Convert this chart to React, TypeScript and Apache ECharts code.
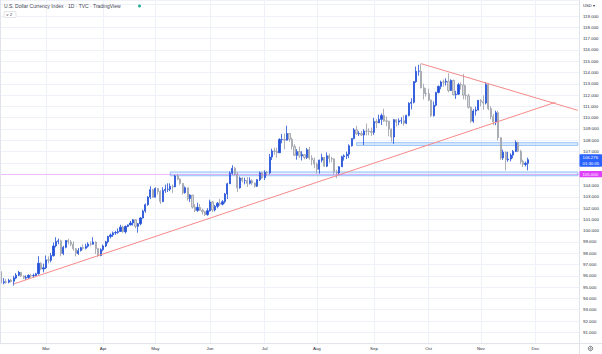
import React, { useEffect, useRef } from "react";
import * as echarts from "echarts";

// [day, open, close, low, high]
const feb = [
  [3, 96.37, 95.37, 95.35, 96.42], [4, 95.38, 95.48, 95.25, 95.8], [7, 95.47, 95.44, 95.3, 95.71],
  [8, 95.44, 95.6, 95.33, 95.74], [9, 95.62, 95.5, 95.41, 95.73], [10, 95.51, 95.82, 95.14, 96.0],
  [11, 95.8, 96.07, 95.7, 96.24], [14, 96.05, 96.31, 95.97, 96.44], [15, 96.3, 95.99, 95.9, 96.34],
  [16, 95.99, 95.81, 95.7, 96.04], [17, 95.8, 95.86, 95.63, 96.04], [18, 95.85, 96.04, 95.72, 96.13],
  [21, 96.03, 96.0, 95.85, 96.18], [22, 96.0, 96.03, 95.82, 96.2], [23, 96.03, 96.18, 95.98, 96.26],
  [24, 96.19, 97.11, 96.1, 97.74], [25, 97.1, 96.61, 96.5, 97.2], [28, 96.6, 96.71, 96.3, 97.08],
];
const mar = [
  [1, 96.72, 97.41, 96.6, 97.8], [2, 97.42, 97.37, 97.09, 97.73], [3, 97.38, 97.79, 97.2, 98.03],
  [4, 97.78, 98.64, 97.7, 98.95], [7, 98.65, 99.04, 98.52, 99.42], [8, 99.05, 99.1, 98.79, 99.3],
  [9, 99.1, 97.98, 97.72, 99.2], [10, 97.98, 98.52, 97.83, 98.66], [11, 98.52, 99.13, 98.43, 99.16],
  [14, 99.13, 99.0, 98.78, 99.29], [15, 99.0, 98.8, 98.62, 99.17], [16, 98.8, 98.39, 98.22, 99.05],
  [17, 98.4, 97.97, 97.71, 98.46], [18, 97.97, 98.23, 97.85, 98.46], [21, 98.24, 98.49, 98.15, 98.57],
  [22, 98.5, 98.44, 98.3, 98.79], [23, 98.44, 98.62, 98.34, 98.83], [24, 98.62, 98.81, 98.5, 98.97],
  [25, 98.81, 98.79, 98.61, 99.05], [28, 98.8, 98.99, 98.77, 99.42], [29, 98.99, 98.41, 97.93, 99.03],
  [30, 98.41, 97.8, 97.68, 98.45], [31, 97.8, 98.31, 97.73, 98.44],
];
const apr = [
  [1, 98.32, 98.64, 98.17, 98.77], [4, 98.64, 99.02, 98.55, 99.1], [5, 99.02, 99.48, 98.86, 99.55],
  [6, 99.48, 99.62, 99.31, 99.75], [7, 99.62, 99.8, 99.44, 99.92], [8, 99.8, 99.84, 99.63, 99.97],
  [11, 99.84, 99.92, 99.72, 100.19], [12, 99.93, 100.31, 99.89, 100.52], [13, 100.31, 99.9, 99.81, 100.45],
  [14, 99.9, 100.38, 99.74, 100.45], [15, 100.37, 100.51, 100.31, 100.55], [18, 100.51, 100.68, 100.46, 100.86],
  [19, 100.68, 100.96, 100.44, 101.03], [20, 100.96, 100.38, 100.21, 101.0], [21, 100.38, 100.61, 99.82, 100.67],
  [22, 100.61, 101.12, 100.47, 101.19], [25, 101.12, 101.73, 101.07, 101.86], [26, 101.73, 102.3, 101.58, 102.4],
  [27, 102.3, 102.97, 102.2, 103.05], [28, 102.97, 103.63, 102.8, 103.93], [29, 103.63, 102.96, 102.9, 103.7],
];
const may = [
  [2, 102.96, 103.74, 102.95, 103.83], [3, 103.74, 103.46, 103.2, 103.77], [4, 103.46, 102.57, 102.35, 103.58],
  [5, 102.57, 103.55, 102.52, 103.85], [6, 103.55, 103.66, 103.34, 104.07], [9, 103.66, 103.67, 103.42, 104.19],
  [10, 103.67, 103.92, 103.5, 104.19], [11, 103.92, 103.88, 103.34, 104.08], [12, 103.88, 104.84, 103.84, 104.93],
  [13, 104.84, 104.56, 104.47, 105.0], [16, 104.56, 104.18, 104.06, 104.64], [17, 104.18, 103.36, 103.19, 104.2],
  [18, 103.36, 103.8, 103.27, 103.92], [19, 103.8, 102.84, 102.66, 103.8], [20, 102.84, 103.15, 102.54, 103.23],
  [23, 103.15, 102.08, 101.96, 103.15], [24, 102.08, 101.79, 101.64, 102.35], [25, 101.79, 102.06, 101.66, 102.48],
  [26, 102.06, 101.81, 101.74, 102.35], [27, 101.81, 101.67, 101.43, 101.94], [30, 101.67, 101.42, 101.3, 101.74],
  [31, 101.42, 101.76, 101.32, 101.99],
];
const jun = [
  [1, 101.76, 102.54, 101.68, 102.74], [2, 102.54, 101.83, 101.64, 102.63], [3, 101.83, 102.15, 101.7, 102.27],
  [6, 102.15, 102.43, 101.98, 102.53], [7, 102.43, 102.34, 102.19, 102.8], [8, 102.34, 102.56, 102.24, 102.7],
  [9, 102.56, 103.24, 102.4, 103.33], [10, 103.24, 104.15, 102.8, 104.24], [13, 104.15, 105.08, 104.13, 105.24],
  [14, 105.08, 105.52, 104.95, 105.79], [15, 105.52, 105.0, 104.87, 105.65], [16, 105.0, 103.79, 103.41, 105.18],
  [17, 103.79, 104.66, 103.71, 104.79], [20, 104.66, 104.43, 104.26, 104.72], [21, 104.43, 104.44, 104.1, 104.69],
  [22, 104.44, 104.19, 103.87, 104.74], [23, 104.19, 104.42, 104.09, 104.72], [24, 104.42, 104.21, 104.04, 104.55],
  [27, 104.21, 103.94, 103.8, 104.26], [28, 103.94, 104.51, 103.86, 104.57], [29, 104.51, 105.11, 104.39, 105.23],
  [30, 105.11, 104.69, 104.58, 105.2],
];
const jul = [
  [1, 104.69, 105.14, 104.48, 105.35], [4, 105.14, 105.12, 104.87, 105.28], [5, 105.12, 106.52, 104.98, 106.79],
  [6, 106.52, 107.05, 106.25, 107.26], [7, 107.05, 107.02, 106.72, 107.33], [8, 107.02, 106.89, 106.45, 107.35],
  [11, 106.89, 108.07, 106.88, 108.18], [12, 108.07, 108.08, 107.73, 108.56], [13, 108.07, 108.01, 107.2, 108.6],
  [14, 108.01, 108.6, 107.98, 109.29], [15, 108.6, 108.09, 107.86, 108.62], [18, 108.09, 107.46, 107.18, 108.23],
  [19, 107.46, 106.67, 106.61, 107.65], [20, 106.67, 107.0, 106.28, 107.22], [21, 107.0, 106.6, 106.43, 107.43],
  [22, 106.6, 106.73, 106.21, 107.03], [25, 106.73, 106.47, 106.31, 106.77], [26, 106.47, 107.17, 106.34, 107.32],
  [27, 107.17, 106.42, 106.28, 107.42], [28, 106.42, 106.26, 105.79, 106.68], [29, 106.26, 105.9, 105.54, 106.48],
];
const aug = [
  [1, 105.9, 105.43, 105.05, 106.04], [2, 105.43, 106.24, 105.04, 106.29], [3, 106.24, 106.47, 106.04, 106.81],
  [4, 106.47, 105.71, 105.65, 106.52], [5, 105.71, 106.63, 105.62, 106.93], [8, 106.63, 106.38, 106.0, 106.81],
  [9, 106.38, 106.35, 106.07, 106.54], [10, 106.35, 105.2, 104.98, 106.39], [11, 105.2, 105.11, 104.64, 105.39],
  [12, 105.11, 105.65, 104.97, 105.71], [15, 105.65, 106.54, 105.64, 106.63], [16, 106.54, 106.62, 106.2, 106.75],
  [17, 106.62, 106.77, 106.34, 106.99], [18, 106.77, 107.51, 106.42, 107.65], [19, 107.51, 108.16, 107.44, 108.19],
  [22, 108.16, 108.93, 108.08, 109.08], [23, 108.93, 108.56, 108.48, 109.27], [24, 108.56, 108.6, 108.38, 108.8],
  [25, 108.6, 108.46, 108.39, 108.82], [26, 108.46, 108.82, 107.58, 108.98], [29, 108.82, 108.81, 108.42, 109.48],
  [30, 108.81, 108.78, 108.44, 109.06], [31, 108.78, 108.7, 108.38, 109.12],
];
const sep = [
  [1, 108.7, 109.67, 108.48, 109.99], [2, 109.67, 109.54, 109.07, 109.87], [5, 109.54, 109.85, 109.53, 110.27],
  [6, 109.85, 110.2, 109.35, 110.37], [7, 110.2, 109.71, 109.62, 110.79], [8, 109.71, 109.69, 109.24, 110.11],
  [9, 109.69, 109.0, 108.36, 109.73], [12, 109.0, 108.29, 107.87, 109.04], [13, 108.29, 109.82, 107.68, 109.89],
  [14, 109.82, 109.61, 109.22, 109.87], [15, 109.61, 109.72, 109.33, 109.94], [16, 109.72, 109.73, 109.45, 110.04],
  [19, 109.73, 109.51, 109.29, 110.21], [20, 109.51, 110.2, 109.43, 110.26], [21, 110.2, 111.27, 110.11, 111.37],
  [22, 111.27, 111.36, 110.72, 111.72], [23, 111.36, 113.19, 111.26, 113.24], [26, 113.19, 114.11, 113.07, 114.53],
  [27, 114.11, 114.12, 113.72, 114.68], [28, 114.11, 112.65, 112.58, 114.78], [29, 112.65, 112.14, 111.61, 113.0],
  [30, 112.14, 112.12, 111.87, 112.62],
];
const oct = [
  [3, 112.12, 111.56, 111.47, 112.55], [4, 111.56, 110.18, 110.06, 111.59], [5, 110.18, 111.1, 110.09, 111.44],
  [6, 111.1, 112.24, 110.99, 112.29], [7, 112.24, 112.77, 112.14, 112.85], [10, 112.77, 113.16, 112.52, 113.28],
  [11, 113.16, 113.15, 112.73, 113.38], [12, 113.15, 113.23, 112.85, 113.49], [13, 113.23, 112.4, 112.25, 113.92],
  [14, 112.4, 113.31, 112.37, 113.39], [17, 113.31, 112.03, 111.96, 113.35], [18, 112.03, 112.08, 111.66, 112.38],
  [19, 112.08, 112.92, 112.01, 113.08], [20, 112.92, 112.9, 112.48, 113.13], [21, 112.9, 111.99, 111.62, 113.88],
  [24, 111.99, 111.94, 111.6, 112.87], [25, 111.94, 110.92, 110.81, 112.12], [26, 110.92, 109.69, 109.53, 110.99],
  [27, 109.69, 110.59, 109.54, 110.75], [28, 110.59, 110.67, 110.18, 110.98], [31, 110.67, 111.53, 110.65, 111.57],
];
const nov = [
  [1, 111.53, 111.42, 110.99, 111.65], [2, 111.42, 111.3, 110.71, 111.98], [3, 111.3, 112.93, 111.17, 113.15],
  [4, 112.93, 110.8, 110.66, 113.01], [7, 110.8, 110.11, 109.86, 111.01], [8, 110.11, 109.62, 109.36, 110.34],
  [9, 109.62, 110.44, 109.33, 110.62], [10, 110.44, 108.22, 107.97, 110.6], [11, 108.22, 106.44, 106.27, 108.28],
  [14, 106.44, 106.95, 106.25, 107.18], [15, 106.95, 106.28, 105.34, 107.02], [16, 106.28, 106.34, 106.09, 106.98],
  [17, 106.34, 106.69, 106.14, 106.84], [18, 106.69, 107.01, 106.41, 107.14], [21, 107.01, 107.8, 106.95, 107.99],
  [22, 107.8, 107.02, 106.94, 107.88], [23, 107.02, 106.11, 105.88, 107.16], [24, 106.11, 105.86, 105.63, 106.28],
  [25, 105.86, 105.96, 105.67, 106.11], [28, 105.96, 106.28, 105.34, 106.46],
];
const months = [
  ["02", feb], ["03", mar], ["04", apr], ["05", may], ["06", jun],
  ["07", jul], ["08", aug], ["09", sep], ["10", oct], ["11", nov],
] as [string, number[][]][];

// empty future sessions on the time scale
const futureDays = [
  "2022-11-29", "2022-11-30", "2022-12-01", "2022-12-02", "2022-12-05", "2022-12-06", "2022-12-07",
  "2022-12-08", "2022-12-09", "2022-12-12", "2022-12-13", "2022-12-14", "2022-12-15", "2022-12-16",
  "2022-12-19", "2022-12-20", "2022-12-21", "2022-12-22", "2022-12-23", "2022-12-26",
];

const monthTicks = ["2022-03-01", "2022-04-01", "2022-05-02", "2022-06-01", "2022-07-01", "2022-08-01", "2022-09-01", "2022-10-03", "2022-11-01", "2022-12-01"];
const monthNames = ["Mar", "Apr", "May", "Jun", "Jul", "Aug", "Sep", "Oct", "Nov", "Dec"];

// drawings [date, price]
const trendLower = [["2022-02-10", 95.28], ["2022-12-13", 111.36]];
const trendUpper = [["2022-09-28", 114.78], ["2022-12-26", 110.65]];
const zoneUpper = [["2022-08-23", 107.78], ["2022-12-26", 107.55]];
const zoneLower = [["2022-05-10", 105.19], ["2022-12-26", 104.86]];
const alertLevel = 105.0;
const lastPrice = 106.276;
const countdown = "01:30:05";

const FONT = "'Liberation Sans', Arial, sans-serif";

export default function App() {
  const ref = useRef<HTMLDivElement>(null);
  useEffect(() => {
    if (!ref.current) return;
    const chart = echarts.init(ref.current, null, { renderer: "svg" });
    const dates: string[] = [];
    const candles: number[][] = [];
    months.forEach(([m, rows]) => {
      rows.forEach((r) => {
        dates.push(`2022-${m}-${String(r[0]).padStart(2, "0")}`);
        candles.push([r[1], r[2], r[3], r[4]]);
      });
    });
    const categories = dates.concat(futureDays);
    const isMonth = (_i: number, v: string) => monthTicks.indexOf(v) >= 0;

    chart.setOption({
      animation: false,
      backgroundColor: "#ffffff",
      textStyle: { fontFamily: FONT },
      grid: { left: 0, right: 23, top: 0.2, bottom: 10.4 },
      xAxis: {
        type: "category",
        data: categories,
        boundaryGap: true,
        axisLine: { show: false },
        axisTick: { show: false },
        axisLabel: {
          interval: isMonth,
          formatter: (v: string) => {
            const k = monthTicks.indexOf(v);
            return k >= 0 ? monthNames[k] : "";
          },
          fontSize: 4.4,
          color: "#2a2e39",
          margin: 2.6,
          fontFamily: FONT,
        },
        splitLine: { show: true, interval: isMonth, alignWithLabel: true, lineStyle: { color: "#eef1f7", width: 1 } },
      },
      yAxis: {
        type: "value",
        position: "right",
        min: 90,
        max: 120.4,
        interval: 1,
        axisLine: { show: false },
        axisTick: { show: false },
        axisLabel: {
          formatter: (v: number) => (v < 90.5 || v > 119.5 ? "" : v.toFixed(3)),
          fontSize: 4.4,
          color: "#2a2e39",
          margin: 4,
          fontFamily: FONT,
        },
        splitLine: { lineStyle: { color: "#eef1f7", width: 1 } },
      },
      series: [
        {
          type: "candlestick",
          data: candles,
          barWidth: 1.7,
          itemStyle: {
            color: "#2250d8",
            borderColor: "#2250d8",
            color0: "#d8d9dc",
            borderColor0: "#9a9da6",
            borderWidth: 0.8,
          },
          markArea: {
            silent: true,
            itemStyle: { color: "rgba(144,191,249,0.22)", borderColor: "#90bff9", borderWidth: 1 },
            data: [zoneUpper, zoneLower].map((z) => [{ coord: z[0] }, { coord: z[1] }]),
          },
          markLine: {
            silent: true,
            symbol: ["none", "none"],
            label: { show: false },
            lineStyle: { color: "#f58a8a", width: 1, type: "solid" },
            data: [
              [{ coord: trendLower[0] }, { coord: trendLower[1] }],
              [{ coord: trendUpper[0] }, { coord: trendUpper[1] }],
              { yAxis: alertLevel, lineStyle: { color: "rgba(224,64,251,0.3)", width: 1, type: "solid" } },
            ],
          },
        },
      ],
    });

    const yLast = chart.convertToPixel({ yAxisIndex: 0 }, lastPrice) as number;
    const yAlert = chart.convertToPixel({ yAxisIndex: 0 }, alertLevel) as number;
    const yBottom = chart.convertToPixel({ yAxisIndex: 0 }, 90) as number;
    const txt = (x: number, y: number, text: string, size: number, fill: string, extra: any = {}) => ({
      type: "text",
      x,
      y,
      style: { text, fontSize: size, fill, fontFamily: FONT, verticalAlign: "middle", ...extra },
      z: 100,
    });

    chart.setOption({
      graphic: [
        { type: "line", shape: { x1: 0.5, y1: 0, x2: 0.5, y2: yBottom }, style: { stroke: "#e0e3eb", lineWidth: 1 }, z: 90 },
        { type: "line", shape: { x1: 579.5, y1: 0, x2: 579.5, y2: 354 }, style: { stroke: "#e0e3eb", lineWidth: 1 }, z: 90 },
        { type: "line", shape: { x1: 0, y1: yBottom, x2: 602, y2: yBottom }, style: { stroke: "#e0e3eb", lineWidth: 1 }, z: 90 },
        txt(4, 6, "U.S. Dollar Currency Index · 1D · TVC · TradingView", 5, "#434651"),
        { type: "circle", shape: { cx: 139.5, cy: 6, r: 1.5 }, style: { fill: "#22ab94" }, z: 100 },
        { type: "rect", shape: { x: 4, y: 11.5, width: 12, height: 6, r: 1 }, style: { fill: "#ffffff", stroke: "#d1d4dc", lineWidth: 0.6 }, z: 100 },
        txt(6, 14.6, "˅ 2", 4.4, "#434651"),
        txt(583, 5, "USD ▾", 4.2, "#2a2e39"),
        { type: "rect", shape: { x: 579.5, y: yLast - 5.6, width: 22.5, height: 12.6, r: 0.8 }, style: { fill: "#2962ff" }, z: 100 },
        txt(582.5, yLast - 2.4, lastPrice.toFixed(3), 4.3, "#ffffff"),
        txt(582.5, yLast + 3.6, countdown, 4.3, "#ffffff"),
        { type: "rect", shape: { x: 579.5, y: yAlert - 3.2, width: 22.5, height: 6.4, r: 0.8 }, style: { fill: "#e040fb" }, z: 100 },
        txt(582.5, yAlert, alertLevel.toFixed(3), 4.3, "#ffffff"),
        { type: "circle", shape: { cx: 590.5, cy: 348.5, r: 2.2 }, style: { fill: "none", stroke: "#50535e", lineWidth: 0.8 }, z: 100 },
        { type: "circle", shape: { cx: 590.5, cy: 348.5, r: 0.8 }, style: { fill: "none", stroke: "#50535e", lineWidth: 0.6 }, z: 100 },
      ],
    });

    return () => chart.dispose();
  }, []);
  return <div ref={ref} style={{ position: "fixed", left: 0, top: 0, width: 602, height: 354, background: "#fff" }} />;
}
